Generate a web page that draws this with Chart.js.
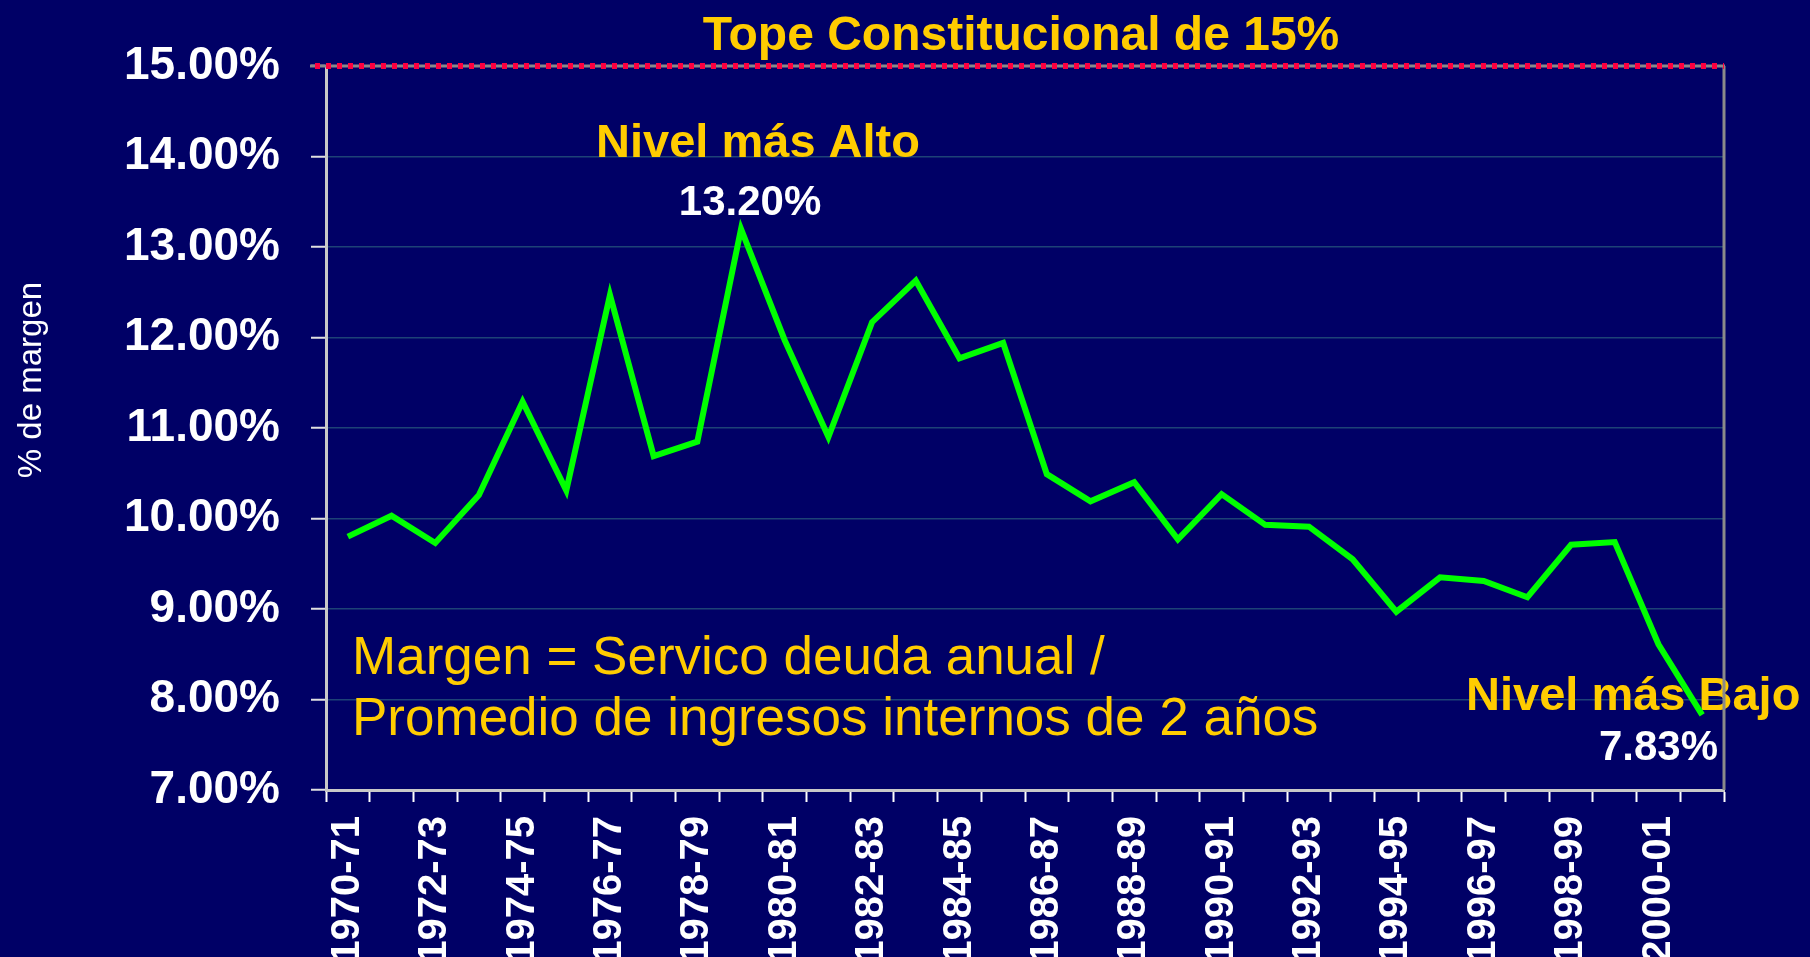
<!DOCTYPE html>
<html lang="es">
<head>
<meta charset="utf-8">
<title>Margen - Tope Constitucional de 15%</title>
<script src="https://cdn.jsdelivr.net/npm/chart.js"></script>
<style>
    html, body { margin: 0; padding: 0; background: #000066; }
    #wrap { width: 1810px; height: 957px; }
</style>
</head>
<body>
<div id="wrap"><canvas id="margenChart" width="1810" height="957"></canvas></div>
<script>
// periodos fiscales (eje x)
const periodos = [
    '1970-71', '1971-72', '1972-73', '1973-74', '1974-75', '1975-76', '1976-77', '1977-78',
    '1978-79', '1979-80', '1980-81', '1981-82', '1982-83', '1983-84', '1984-85', '1985-86',
    '1986-87', '1987-88', '1988-89', '1989-90', '1990-91', '1991-92', '1992-93', '1993-94',
    '1994-95', '1995-96', '1996-97', '1997-98', '1998-99', '1999-00', '2000-01', '2001-02'
];

// % de margen
const margen = [
    9.80, 10.03, 9.73, 10.26, 11.29, 10.31, 12.47, 10.69,
    10.85, 13.20, 11.97, 10.90, 12.17, 12.63, 11.77, 11.94,
    10.49, 10.19, 10.40, 9.77, 10.27, 9.93, 9.91, 9.55,
    8.97, 9.35, 9.31, 9.13, 9.71, 9.74, 8.61, 7.83
];

const yMin = 7;
const yMax = 15;
const tope = 15;

const notas = {
    titulo: 'Tope Constitucional de 15%',
    alto: 'Nivel más Alto',
    altoValor: '13.20%',
    bajo: 'Nivel más Bajo',
    bajoValor: '7.83%',
    formula: ['Margen = Servico deuda anual /', 'Promedio de ingresos internos de 2 años'],
    ejeY: '% de margen'
};

document.addEventListener("DOMContentLoaded", function() {
    const FONT = '"Liberation Sans", Arial, sans-serif';
    const AMARILLO = '#ffcc00';

    // textos y linea del tope
    const anotaciones = {
        id: 'anotaciones',
        beforeDatasetsDraw(chart) {
            const ctx = chart.ctx;
            ctx.save();
            ctx.textBaseline = 'alphabetic';

            ctx.fillStyle = AMARILLO;
            ctx.font = 'bold 48px ' + FONT;
            ctx.textAlign = 'center';
            ctx.fillText(notas.titulo, 1021, 50);

            ctx.font = 'bold 47px ' + FONT;
            ctx.fillText(notas.alto, 758, 157);
            ctx.textAlign = 'left';
            ctx.fillText(notas.bajo, 1466, 710);

            ctx.fillStyle = '#ffffff';
            ctx.font = 'bold 42px ' + FONT;
            ctx.textAlign = 'center';
            ctx.fillText(notas.altoValor, 750, 215);
            ctx.textAlign = 'right';
            ctx.fillText(notas.bajoValor, 1718, 760);

            ctx.fillStyle = AMARILLO;
            ctx.font = '53px ' + FONT;
            ctx.textAlign = 'left';
            ctx.fillText(notas.formula[0], 352, 674);
            ctx.fillText(notas.formula[1], 352, 735);

            // titulo del eje y
            ctx.fillStyle = '#ffffff';
            ctx.font = '33px ' + FONT;
            ctx.translate(32, 380);
            ctx.rotate(-Math.PI / 2);
            ctx.textAlign = 'center';
            ctx.textBaseline = 'middle';
            ctx.fillText(notas.ejeY, 0, 0);
            ctx.restore();
        },
        afterDraw(chart) {
            const ctx = chart.ctx;
            const area = chart.chartArea;
            const yTope = chart.scales.y.getPixelForValue(tope);
            ctx.save();
            // borde derecho
            ctx.strokeStyle = '#8a8a8a';
            ctx.lineWidth = 3;
            ctx.beginPath();
            ctx.moveTo(area.right, yTope);
            ctx.lineTo(area.right, area.bottom);
            ctx.stroke();
            // linea del tope: gris con puntos rojos
            ctx.strokeStyle = '#8a8a8a';
            ctx.lineWidth = 3;
            ctx.beginPath();
            ctx.moveTo(area.left - 16, yTope);
            ctx.lineTo(area.right + 1, yTope);
            ctx.stroke();
            ctx.strokeStyle = '#ff0040';
            ctx.lineWidth = 6;
            ctx.setLineDash([5, 6]);
            ctx.beginPath();
            ctx.moveTo(area.left - 11, yTope);
            ctx.lineTo(area.right, yTope);
            ctx.stroke();
            ctx.restore();
        }
    };

    const ctx = document.getElementById('margenChart').getContext('2d');
    new Chart(ctx, {
        type: 'line',
        data: {
            labels: periodos,
            datasets: [{
                label: '% de margen',
                data: margen,
                borderColor: '#00ff00',
                borderWidth: 6,
                pointRadius: 0,
                tension: 0,
                fill: false
            }]
        },
        options: {
            responsive: false,
            animation: false,
            layout: {
                padding: { top: 66, right: 86, bottom: 0, left: 0 }
            },
            plugins: {
                legend: { display: false },
                tooltip: { enabled: false }
            },
            scales: {
                x: {
                    type: 'category',
                    offset: true,
                    afterFit: function(scale) { scale.height = 167; },
                    grid: {
                        offset: true,
                        drawOnChartArea: false,
                        tickLength: 12,
                        tickColor: '#ffffff',
                        tickWidth: 2
                    },
                    border: { display: true, color: '#c8c8c8', width: 3 },
                    ticks: {
                        autoSkip: false,
                        minRotation: 90,
                        maxRotation: 90,
                        padding: 14,
                        color: '#ffffff',
                        font: { family: FONT, size: 40, weight: 'bold' },
                        callback: function(value, index) {
                            return index % 2 === 0 ? periodos[index] : '';
                        }
                    }
                },
                y: {
                    min: yMin,
                    max: yMax,
                    afterFit: function(scale) { scale.width = 326; },
                    grid: {
                        color: function(c) {
                            const v = c.tick ? c.tick.value : null;
                            return (v === yMin || v === yMax) ? 'rgba(0,0,0,0)' : '#1d4276';
                        },
                        lineWidth: 1.5,
                        tickLength: 15,
                        tickColor: '#e0e0e0',
                        tickWidth: 2
                    },
                    border: { display: true, color: '#c8c8c8', width: 3 },
                    ticks: {
                        stepSize: 1,
                        padding: 31,
                        color: '#ffffff',
                        font: { family: FONT, size: 46, weight: 'bold' },
                        callback: function(value) {
                            return value.toFixed(2) + '%';
                        }
                    }
                }
            }
        },
        plugins: [anotaciones]
    });
});
</script>
</body>
</html>
